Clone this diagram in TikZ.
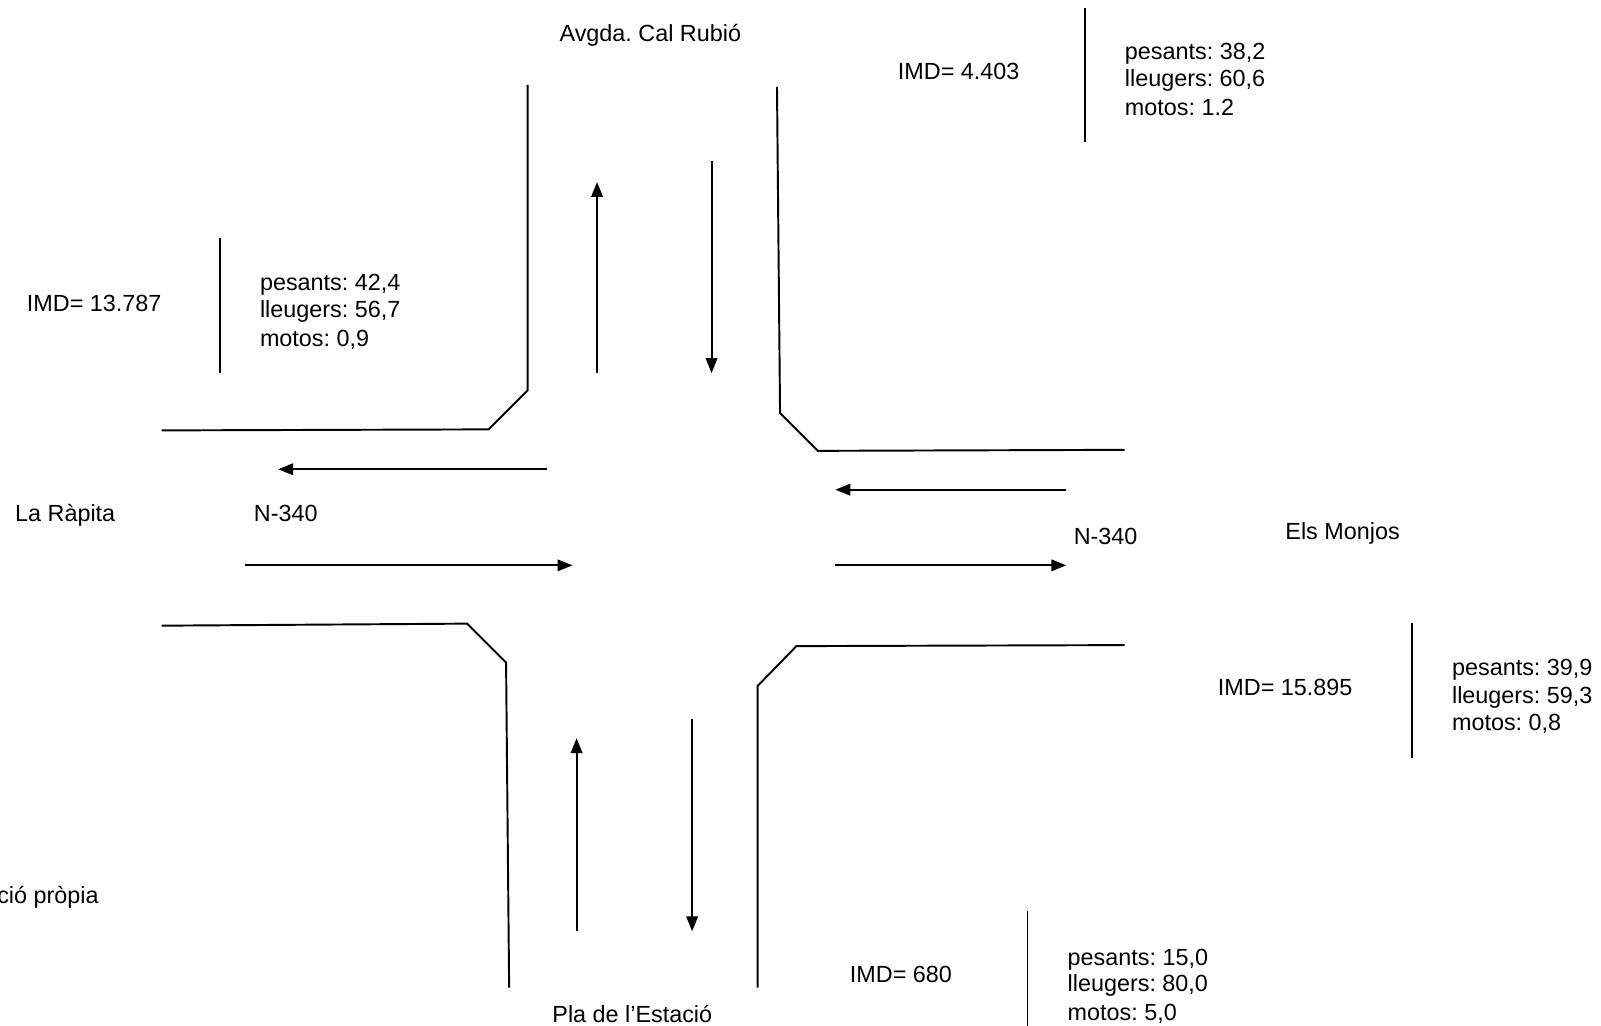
\documentclass[tikz,border=0pt]{standalone}
\usepackage{fontspec}
\setmainfont{Liberation Sans}
\usetikzlibrary{arrows.meta}
\frenchspacing
\begin{document}
\begin{tikzpicture}[x=0.02045cm,y=-0.02045cm,
  road/.style={line width=1.1pt},
  flow/.style={line width=1.1pt,-{Triangle[length=0.3cm,width=0.23cm]}},
  sepline/.style={line width=1.1pt},
  lbl/.style={anchor=base west,inner sep=0pt,font=\fontsize{13.3}{16}\selectfont},
  rlbl/.style={anchor=base east,inner sep=0pt,font=\fontsize{13.3}{16}\selectfont}]
\useasboundingbox (0,0) rectangle (1566,1003.4);
% road edges
\draw[road] (516,83) -- (516,382) -- (478,420) -- (158,421);
\draw[road] (760,85) -- (763,404) -- (800,441) -- (1100,440);
\draw[road] (158,612) -- (457,610) -- (495,648) -- (498,966);
\draw[road] (1100,631) -- (779,632) -- (741,671) -- (741,966);
% flow arrows
\coordinate (n1s) at (584,365); \coordinate (n1e) at (584,178);
\coordinate (n2s) at (696,157); \coordinate (n2e) at (696,365);
\coordinate (w1s) at (535,459); \coordinate (w1e) at (272,459);
\coordinate (w2s) at (240,553); \coordinate (w2e) at (560,553);
\coordinate (e1s) at (1043,479); \coordinate (e1e) at (817,479);
\coordinate (e2s) at (817,553); \coordinate (e2e) at (1043,553);
\coordinate (s1s) at (564,911); \coordinate (s1e) at (564,722);
\coordinate (s2s) at (677,703); \coordinate (s2e) at (677,911);
\draw[flow] (n1s) -- (n1e);
\draw[flow] (n2s) -- (n2e);
\draw[flow] (w1s) -- (w1e);
\draw[flow] (w2s) -- (w2e);
\draw[flow] (e1s) -- (e1e);
\draw[flow] (e2s) -- (e2e);
\draw[flow] (s1s) -- (s1e);
\draw[flow] (s2s) -- (s2e);
% separators
\draw[sepline] (1061,8) -- (1061,139);
\draw[sepline] (215,233) -- (215,365);
\draw[sepline] (1381,609) -- (1381,741);
\draw[sepline] (1005,891) -- (1005,1010);
% labels
\node[lbl] (north) at (547,41) {Avgda. Cal Rubió};
\node[lbl] (imdn) at (878,78) {IMD= 4.403};
\node[lbl] (pn) at (1100,58) {pesants: 38,2};
\node[lbl] (ln) at (1100,85) {lleugers: 60,6};
\node[lbl] (mn) at (1100,113) {motos: 1.2};
\node[lbl] (imdw) at (26,305) {IMD= 13.787};
\node[lbl] (pw) at (254,284) {pesants: 42,4};
\node[lbl] (lw) at (254,311) {lleugers: 56,7};
\node[lbl] (mw) at (254,339) {motos: 0,9};
\node[lbl] (west) at (14.5,510) {La Ràpita};
\node[lbl] (nw) at (248,510) {N-340};
\node[lbl] (ne) at (1050,533) {N-340};
\node[lbl] (east) at (1257,528) {Els Monjos};
\node[lbl] (imde) at (1191,680) {IMD= 15.895};
\node[lbl] (pe) at (1420,661) {pesants: 39,9};
\node[lbl] (le) at (1420,688) {lleugers: 59,3};
\node[lbl] (me) at (1420,715) {motos: 0,8};
\node[lbl] (src) at (-3,884) {ció pròpia};
\node[lbl] (imds) at (831,961) {IMD= 680};
\node[lbl] (ps) at (1044,944) {pesants: 15,0};
\node[lbl] (ls) at (1044,970) {lleugers: 80,0};
\node[lbl] (ms) at (1044,998) {motos: 5,0};
\node[lbl] (south) at (540,1000) {Pla de l’Estació};
\end{tikzpicture}
\end{document}
